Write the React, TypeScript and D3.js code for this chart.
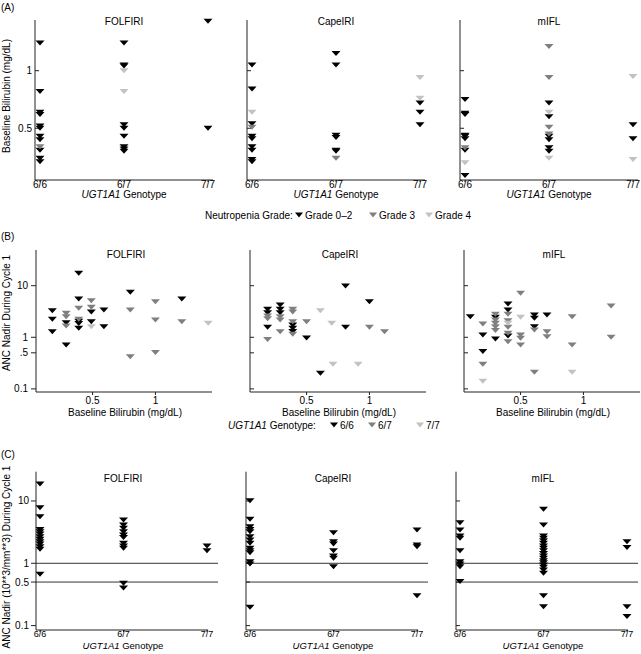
import React from "react";
import * as d3 from "d3";

const GENOTYPES = ["6/6", "6/7", "7/7"];
const REGIMENS = ["FOLFIRI", "CapeIRI", "mIFL"];
const GRADE_CODES = [0, 3, 4];
const GRADE_LABELS = ["Grade 0–2", "Grade 3", "Grade 4"];
const SHADES = ["#000000", "#7f7f7f", "#c2c2c2"];

// Panel A: [genotype, baseline bilirubin (mg/dL), neutropenia grade]
const bilirubinFOLFIRI: [string, number, number][] = [
  ["6/6", 1.24, 0], ["6/6", 0.82, 0], ["6/6", 0.64, 0], ["6/6", 0.62, 0], ["6/6", 0.52, 0],
  ["6/6", 0.5, 0], ["6/6", 0.43, 0], ["6/6", 0.4, 0], ["6/6", 0.31, 0], ["6/6", 0.24, 0],
  ["6/6", 0.21, 0], ["6/6", 0.34, 3],
  ["6/7", 1.24, 0], ["6/7", 1.05, 0], ["6/7", 1.04, 0], ["6/7", 0.53, 0], ["6/7", 0.5, 0],
  ["6/7", 0.43, 0], ["6/7", 0.34, 0], ["6/7", 0.32, 0], ["6/7", 0.3, 0], ["6/7", 1.0, 4],
  ["6/7", 0.82, 4],
  ["7/7", 1.43, 0], ["7/7", 0.5, 0],
];
const bilirubinCapeIRI: [string, number, number][] = [
  ["6/6", 1.05, 0], ["6/6", 0.84, 0], ["6/6", 0.54, 0], ["6/6", 0.43, 0], ["6/6", 0.41, 0],
  ["6/6", 0.34, 0], ["6/6", 0.31, 0], ["6/6", 0.23, 0], ["6/6", 0.21, 0], ["6/6", 0.64, 4],
  ["6/6", 0.51, 3],
  ["6/7", 1.15, 0], ["6/7", 1.05, 0], ["6/7", 0.44, 0], ["6/7", 0.42, 0], ["6/7", 0.31, 0],
  ["6/7", 0.3, 0], ["6/7", 0.24, 3],
  ["7/7", 0.72, 0], ["7/7", 0.64, 0], ["7/7", 0.53, 0], ["7/7", 0.94, 4], ["7/7", 0.76, 4],
];
const bilirubinMIFL: [string, number, number][] = [
  ["6/6", 0.75, 0], ["6/6", 0.63, 0], ["6/6", 0.62, 0], ["6/6", 0.44, 0], ["6/6", 0.43, 0],
  ["6/6", 0.41, 0], ["6/6", 0.31, 0], ["6/6", 0.09, 0], ["6/6", 0.33, 3], ["6/6", 0.2, 4],
  ["6/7", 0.72, 0], ["6/7", 0.6, 0], ["6/7", 0.43, 0], ["6/7", 0.4, 0], ["6/7", 0.33, 0],
  ["6/7", 0.3, 0], ["6/7", 1.21, 3], ["6/7", 0.94, 3], ["6/7", 0.51, 3], ["6/7", 0.45, 3],
  ["6/7", 0.64, 4], ["6/7", 0.24, 4],
  ["7/7", 0.53, 0], ["7/7", 0.41, 0], ["7/7", 0.95, 4], ["7/7", 0.23, 4],
];

// Panel B: [baseline bilirubin, ANC nadir cycle 1, genotype]
const ancByBilirubinFOLFIRI: [number, number, string][] = [
  [0.18, 3.28, "6/6"], [0.18, 2.23, "6/6"], [0.18, 1.28, "6/6"],
  [0.29, 2.92, "6/7"], [0.29, 2.5, "6/7"], [0.29, 1.92, "6/6"], [0.29, 1.66, "6/7"], [0.29, 0.71, "6/6"],
  [0.39, 17.4, "6/6"], [0.39, 5.5, "6/6"], [0.39, 3.65, "6/7"], [0.39, 2.23, "6/7"], [0.39, 2.05, "6/6"],
  [0.39, 1.85, "6/6"], [0.39, 1.49, "6/6"],
  [0.49, 5.12, "6/7"], [0.49, 3.81, "6/7"], [0.49, 3.09, "6/6"], [0.49, 2.0, "6/6"], [0.49, 1.6, "7/7"],
  [0.59, 3.38, "6/6"], [0.59, 1.6, "6/6"],
  [0.8, 7.45, "6/6"], [0.8, 3.38, "6/7"], [0.8, 0.42, "6/7"],
  [1.0, 4.9, "6/7"], [1.0, 2.16, "6/7"], [1.0, 0.51, "6/7"],
  [1.21, 5.5, "6/6"], [1.21, 2.0, "6/7"],
  [1.42, 1.87, "7/7"],
];
const ancByBilirubinCapeIRI: [number, number, string][] = [
  [0.19, 3.49, "6/6"], [0.19, 3.0, "6/6"], [0.19, 2.59, "6/7"], [0.19, 2.3, "6/7"], [0.19, 1.56, "6/6"],
  [0.19, 0.91, "6/7"],
  [0.29, 4.23, "6/6"], [0.29, 3.49, "6/6"], [0.29, 3.0, "6/6"], [0.29, 2.51, "6/7"], [0.29, 2.16, "6/7"],
  [0.29, 1.28, "6/7"],
  [0.39, 3.49, "6/7"], [0.39, 3.1, "6/7"], [0.39, 2.0, "6/7"], [0.39, 1.73, "6/6"], [0.39, 1.5, "6/6"],
  [0.39, 1.3, "6/6"], [0.39, 1.15, "6/7"],
  [0.5, 2.0, "6/7"], [0.5, 0.97, "6/6"],
  [0.61, 3.28, "7/7"], [0.61, 0.2, "6/6"],
  [0.7, 1.87, "7/7"], [0.71, 0.3, "7/7"],
  [0.81, 9.87, "6/6"], [0.81, 1.56, "6/6"],
  [0.91, 0.3, "7/7"],
  [1.0, 4.9, "6/6"], [1.0, 1.56, "6/7"],
  [1.12, 1.28, "6/7"],
];
const ancByBilirubinMIFL: [number, number, string][] = [
  [0.1, 2.51, "6/6"],
  [0.2, 1.81, "6/7"], [0.2, 1.11, "6/6"], [0.2, 0.53, "6/6"], [0.2, 0.3, "6/7"], [0.2, 0.14, "7/7"],
  [0.3, 2.79, "6/7"], [0.3, 2.44, "6/6"], [0.3, 2.16, "6/7"], [0.3, 1.87, "6/7"], [0.3, 1.6, "6/7"],
  [0.3, 1.35, "6/7"], [0.3, 0.93, "6/6"],
  [0.4, 4.42, "6/6"], [0.4, 3.38, "6/6"], [0.4, 2.8, "6/7"], [0.4, 2.1, "6/7"], [0.4, 1.87, "7/7"],
  [0.4, 1.56, "6/7"], [0.4, 1.2, "6/7"], [0.4, 1.06, "6/6"], [0.4, 0.82, "6/7"],
  [0.5, 7.1, "6/7"], [0.5, 2.44, "7/7"], [0.5, 1.11, "6/7"], [0.5, 0.96, "6/7"], [0.5, 0.71, "6/7"],
  [0.61, 2.7, "6/6"], [0.61, 2.33, "6/6"], [0.61, 1.6, "6/6"], [0.61, 1.38, "6/7"], [0.61, 0.21, "6/7"],
  [0.71, 2.7, "6/6"], [0.71, 1.28, "6/7"], [0.71, 1.03, "6/7"],
  [0.91, 2.51, "6/7"], [0.91, 0.71, "6/7"], [0.91, 0.21, "7/7"],
  [1.22, 4.04, "6/7"], [1.22, 1.0, "6/7"],
];

// Panel C: [genotype, ANC nadir cycle 1]
const ancByGenotypeFOLFIRI: [string, number][] = [
  ["6/6", 18.7], ["6/6", 7.8], ["6/6", 5.6], ["6/6", 3.5], ["6/6", 3.2], ["6/6", 2.95], ["6/6", 2.67],
  ["6/6", 2.43], ["6/6", 2.22], ["6/6", 2.04], ["6/6", 1.85], ["6/6", 1.68], ["6/6", 0.67],
  ["6/7", 4.95], ["6/7", 4.12], ["6/7", 3.65], ["6/7", 3.2], ["6/7", 2.85], ["6/7", 2.6], ["6/7", 2.09],
  ["6/7", 1.9], ["6/7", 1.74], ["6/7", 0.48], ["6/7", 0.4],
  ["7/7", 1.9], ["7/7", 1.59],
];
const ancByGenotypeCapeIRI: [string, number][] = [
  ["6/6", 10.1], ["6/6", 5.1], ["6/6", 3.86], ["6/6", 3.5], ["6/6", 3.2], ["6/6", 2.67], ["6/6", 2.36],
  ["6/6", 2.09], ["6/6", 1.74], ["6/6", 1.59], ["6/6", 1.48], ["6/6", 1.06], ["6/6", 0.97], ["6/6", 0.197],
  ["6/7", 3.1], ["6/7", 2.22], ["6/7", 2.04], ["6/7", 1.59], ["6/7", 1.31], ["6/7", 1.2], ["6/7", 0.88],
  ["7/7", 3.42], ["7/7", 1.97], ["7/7", 1.85], ["7/7", 0.3],
];
const ancByGenotypeMIFL: [string, number][] = [
  ["6/6", 4.49], ["6/6", 3.42], ["6/6", 2.74], ["6/6", 2.52], ["6/6", 1.59], ["6/6", 1.06], ["6/6", 0.97],
  ["6/6", 0.88], ["6/6", 0.51],
  ["6/7", 7.36], ["6/7", 4.12], ["6/7", 2.74], ["6/7", 2.52], ["6/7", 2.31], ["6/7", 2.09], ["6/7", 1.9],
  ["6/7", 1.74], ["6/7", 1.59], ["6/7", 1.44], ["6/7", 1.31], ["6/7", 1.2], ["6/7", 1.1], ["6/7", 1.02],
  ["6/7", 0.94], ["6/7", 0.86], ["6/7", 0.78], ["6/7", 0.69], ["6/7", 0.3], ["6/7", 0.2],
  ["7/7", 2.22], ["7/7", 1.8], ["7/7", 0.2], ["7/7", 0.14],
];

const FONT = "'Liberation Sans', Arial, Helvetica, sans-serif";
const AXIS = "#222";

function tri(x: number, y: number, w = 9, h = 5) {
  return `M${x - w / 2},${y - h / 2}L${x + w / 2},${y - h / 2}L${x},${y + h / 2}Z`;
}

function GenotypeTitle({ x, y, size = 10 }: { x: number; y: number; size?: number }) {
  return (
    <text x={x} y={y} textAnchor="middle" fontSize={size}>
      <tspan fontStyle="italic">UGT1A1</tspan> Genotype
    </text>
  );
}

function PanelA() {
  const top = 20, bottom = 180;
  const x0s = [35, 247, 460];
  const data = [bilirubinFOLFIRI, bilirubinCapeIRI, bilirubinMIFL];
  const y = d3.scaleLinear().domain([0.051, 1.44]).range([bottom, top]);
  return (
    <g>
      <text x={1} y={11}>(A)</text>
      <text transform={`translate(10,96) rotate(-90)`} textAnchor="middle">Baseline Bilirubin (mg/dL)</text>
      {REGIMENS.map((reg, i) => {
        const x0 = x0s[i];
        const x = d3.scalePoint<string>().domain(GENOTYPES).range([x0 + 5, x0 + 173]);
        const pts = [...data[i]].sort((a, b) => GRADE_CODES.indexOf(a[2]) - GRADE_CODES.indexOf(b[2]));
        return (
          <g key={reg}>
            <line x1={x0} x2={x0} y1={top} y2={bottom} stroke={AXIS} />
            <line x1={x0} x2={x0 + 178} y1={bottom} y2={bottom} stroke={AXIS} />
            {[1, 0.5].map((t) => (
              <g key={t}>
                <line x1={x0} x2={x0 + 4} y1={y(t)} y2={y(t)} stroke={AXIS} />
                {i === 0 && (
                  <text x={x0 - 3} y={y(t)} dy="0.35em" textAnchor="end">{t}</text>
                )}
              </g>
            ))}
            {GENOTYPES.map((g) => (
              <g key={g}>
                <line x1={x(g)} x2={x(g)} y1={bottom} y2={bottom + 2} stroke={AXIS} />
                <text x={x(g)} y={188} textAnchor="middle">{g}</text>
              </g>
            ))}
            <text x={x0 + 89} y={25} textAnchor="middle">{reg}</text>
            <GenotypeTitle x={x0 + 89} y={198} />
            {pts.map((p, k) => (
              <path key={k} d={tri(x(p[0])!, y(p[1]))} fill={SHADES[GRADE_CODES.indexOf(p[2])]} />
            ))}
          </g>
        );
      })}
      <g>
        <text x={205} y={219}>Neutropenia Grade:</text>
        {GRADE_LABELS.map((lab, k) => {
          const mx = [299, 373, 429][k];
          return (
            <g key={lab}>
              <path d={tri(mx, 215, 8, 5)} fill={SHADES[k]} />
              <text x={mx + 6} y={219}>{lab}</text>
            </g>
          );
        })}
      </g>
    </g>
  );
}

function PanelB() {
  const top = 250, bottom = 392;
  const x0s = [36, 250, 464];
  const data = [ancByBilirubinFOLFIRI, ancByBilirubinCapeIRI, ancByBilirubinMIFL];
  const y = d3.scaleLog().domain([0.087, 49.2]).range([bottom, top]);
  const yTicks: [number, string][] = [[10, "10"], [1, "1"], [0.5, ".5"], [0.1, "0.1"]];
  return (
    <g>
      <text x={1} y={240}>(B)</text>
      <text transform={`translate(10,313) rotate(-90)`} textAnchor="middle">ANC Nadir During Cycle 1</text>
      {REGIMENS.map((reg, i) => {
        const x0 = x0s[i];
        const x = d3.scaleLinear().domain([0.05, 1.45]).range([x0, x0 + 176]);
        const pts = [...data[i]].sort((a, b) => GENOTYPES.indexOf(a[2]) - GENOTYPES.indexOf(b[2]));
        return (
          <g key={reg}>
            <line x1={x0} x2={x0} y1={top} y2={bottom} stroke={AXIS} />
            <line x1={x0} x2={x0 + 176} y1={bottom} y2={bottom} stroke={AXIS} />
            {yTicks.map(([t, lab]) => (
              <g key={lab}>
                {i === 0 ? (
                  <>
                    <line x1={x0 - 5} x2={x0} y1={y(t)} y2={y(t)} stroke={AXIS} />
                    <text x={x0 - 8} y={y(t)} dy="0.35em" textAnchor="end">{lab}</text>
                  </>
                ) : (
                  <line x1={x0} x2={x0 + 4} y1={y(t)} y2={y(t)} stroke={AXIS} />
                )}
              </g>
            ))}
            {[0.5, 1].map((t) => (
              <g key={t}>
                <line x1={x(t)} x2={x(t)} y1={bottom} y2={bottom + 3} stroke={AXIS} />
                <text x={x(t)} y={404} textAnchor="middle">{t}</text>
              </g>
            ))}
            <text x={x0 + 90} y={258} textAnchor="middle">{reg}</text>
            <text x={x0 + 89} y={416} textAnchor="middle">Baseline Bilirubin (mg/dL)</text>
            {pts.map((p, k) => (
              <path key={k} d={tri(x(p[0]), y(p[1]))} fill={SHADES[GENOTYPES.indexOf(p[2])]} />
            ))}
          </g>
        );
      })}
      <g>
        <text x={228} y={429}>
          <tspan fontStyle="italic">UGT1A1</tspan> Genotype:
        </text>
        {GENOTYPES.map((g, k) => {
          const mx = [334, 372, 420][k];
          return (
            <g key={g}>
              <path d={tri(mx, 425, 8, 5)} fill={SHADES[k]} />
              <text x={mx + 6} y={429}>{g}</text>
            </g>
          );
        })}
      </g>
    </g>
  );
}

function PanelC() {
  const top = 471.7, bottom = 630;
  const x0s = [36, 246, 456];
  const data = [ancByGenotypeFOLFIRI, ancByGenotypeCapeIRI, ancByGenotypeMIFL];
  const y = d3.scaleLog().domain([0.085, 29.5]).range([bottom, top]);
  const yTicks: [number, string][] = [[10, "10"], [1, "1"], [0.5, "0.5"], [0.1, "0.1"]];
  return (
    <g>
      <text x={1} y={458}>(C)</text>
      <text transform={`translate(10,557) rotate(-90)`} textAnchor="middle">ANC Nadir (10**3/mm**3) During Cycle 1</text>
      {REGIMENS.map((reg, i) => {
        const x0 = x0s[i];
        const x = d3.scalePoint<string>().domain(GENOTYPES).range([x0 + 4, x0 + 171]);
        return (
          <g key={reg}>
            {[1, 0.5].map((t) => (
              <line key={t} x1={x0} x2={Math.min(x0 + 182, 641)} y1={y(t)} y2={y(t)} stroke="#333" />
            ))}
            <line x1={x0} x2={x0} y1={top} y2={bottom} stroke={AXIS} />
            <line x1={x0} x2={x0 + 172} y1={bottom} y2={bottom} stroke={AXIS} />
            {yTicks.map(([t, lab]) => (
              <g key={lab}>
                {i === 0 ? (
                  <>
                    <line x1={x0 - 5} x2={x0} y1={y(t)} y2={y(t)} stroke={AXIS} />
                    <text x={x0 - 7} y={y(t)} dy="0.35em" textAnchor="end">{lab}</text>
                  </>
                ) : (
                  <line x1={x0} x2={x0 + 4} y1={y(t)} y2={y(t)} stroke={AXIS} />
                )}
              </g>
            ))}
            {GENOTYPES.map((g) => (
              <g key={g}>
                <line x1={x(g)} x2={x(g)} y1={bottom} y2={bottom + 2} stroke={AXIS} />
                <text x={x(g)} y={637} textAnchor="middle" fontSize={9}>{g}</text>
              </g>
            ))}
            <text x={x0 + 87} y={482} textAnchor="middle">{reg}</text>
            <GenotypeTitle x={x0 + 87} y={649} size={9.5} />
            {data[i].map((p, k) => (
              <path key={k} d={tri(x(p[0])!, y(p[1]))} fill="#000" />
            ))}
          </g>
        );
      })}
    </g>
  );
}

export default function App() {
  return (
    <svg
      width={641}
      height={654}
      viewBox="0 0 641 654"
      style={{ position: "absolute", left: 0, top: 0, background: "#fff" }}
      fontFamily={FONT}
      fontSize={10}
      fill="#000"
    >
      <rect x={0} y={0} width={641} height={654} fill="#fff" />
      <PanelA />
      <PanelB />
      <PanelC />
    </svg>
  );
}
